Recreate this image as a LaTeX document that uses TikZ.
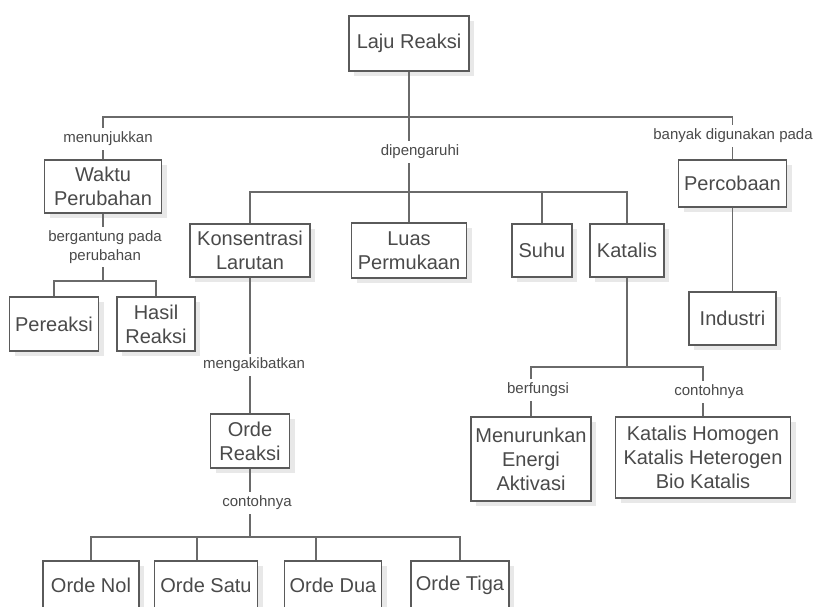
\documentclass[tikz,border=0pt]{standalone}
\usepackage{fontspec}
\setmainfont{Liberation Sans}
\usetikzlibrary{shadows}
\definecolor{linec}{HTML}{6A6A6A}
\definecolor{boxc}{HTML}{5A5A5A}
\definecolor{txtc}{HTML}{4A4A4A}
\tikzset{
  box/.style={draw=boxc, line width=1.5pt, fill=white, text=txtc, align=center,
    font=\fontsize{20}{24}\selectfont, inner sep=2pt,
    drop shadow={shadow xshift=5pt, shadow yshift=-5pt, fill=black!18}},
  lbl/.style={fill=white, text=txtc, align=center, font=\fontsize{15}{19}\selectfont,
    inner xsep=2pt, inner ysep=4pt},
  conn/.style={draw=linec, line width=1.5pt},
}
\begin{document}
\begin{tikzpicture}[x=1pt,y=-1pt]
\useasboundingbox (0,0) rectangle (819,606);
% boxes
\node[box, minimum width=120pt, minimum height=55pt] (laju) at (409,43.5) {Laju Reaksi};
\node[box, minimum width=117pt, minimum height=53pt] (waktu) at (103,186.5) {Waktu\\Perubahan};
\node[box, minimum width=89pt, minimum height=54pt] (pereaksi) at (54,324) {Pereaksi};
\node[box, minimum width=78pt, minimum height=54pt] (hasil) at (156,324) {Hasil\\Reaksi};
\node[box, minimum width=120pt, minimum height=53pt] (kons) at (250,250.5) {Konsentrasi\\Larutan};
\node[box, minimum width=115pt, minimum height=55pt] (luas) at (409,250.5) {Luas\\Permukaan};
\node[box, minimum width=60pt, minimum height=53pt] (suhu) at (542,250.5) {Suhu};
\node[box, minimum width=74pt, minimum height=53pt] (katalis) at (627,250.5) {Katalis};
\node[box, minimum width=108pt, minimum height=47pt] (percobaan) at (732.5,183.5) {Percobaan};
\node[box, minimum width=87pt, minimum height=53pt] (industri) at (732.5,318.5) {Industri};
\node[box, minimum width=79pt, minimum height=54pt] (orde) at (250,441) {Orde\\Reaksi};
\node[box, minimum width=120pt, minimum height=84pt] (menurun) at (531,459) {Menurunkan\\Energi\\Aktivasi};
\node[box, minimum width=175pt, minimum height=81pt] (contoh) at (703,457.5) {Katalis Homogen\\Katalis Heterogen\\Bio Katalis};
\node[box, minimum width=96pt, minimum height=48pt] (nol) at (91,585) {Orde Nol};
\node[box, minimum width=103pt, minimum height=48pt] (satu) at (206,585) {Orde Satu};
\node[box, minimum width=97pt, minimum height=48pt] (dua) at (333,585) {Orde Dua};
\node[box, minimum width=98pt, minimum height=48pt] (tiga) at (460,585) {Orde Tiga};
% junction coordinates
\coordinate (tb) at (409,117);
\coordinate (mb) at (409,192);
\coordinate (wb) at (103,281);
\coordinate (kb) at (627,367);
\coordinate (ob) at (250,537);
\coordinate (sv) at (197,537);
\coordinate (dv) at (316,537);
% connectors
\draw[conn] (waktu.north) |- (tb) -| (percobaan.north);
\draw[conn] (laju.south) -- (mb);
\draw[conn] (kons.north) |- (mb) -| (katalis.north);
\draw[conn] (mb) -- (luas.north);
\draw[conn] (suhu.north) -- (suhu.north |- mb);
\draw[conn] (percobaan.south) -- (industri.north);
\draw[conn] (waktu.south) -- (wb);
\draw[conn] (pereaksi.north) |- (wb) -| (hasil.north);
\draw[conn] (kons.south) -- (orde.north);
\draw[conn] (katalis.south) -- (kb);
\draw[conn] (menurun.north) |- (kb) -| (contoh.north);
\draw[conn] (orde.south) -- (ob);
\draw[conn] (nol.north) |- (ob) -| (tiga.north);
\draw[conn] (sv) -- (sv |- satu.north);
\draw[conn] (dv) -- (dv |- dua.north);
% labels
\node[lbl] (l1) at (108,139) {menunjukkan};
\node[lbl] (l2) at (420,152) {dipengaruhi};
\node[lbl] (l3) at (733,136) {banyak digunakan pada};
\node[lbl] (l4) at (105,247) {bergantung pada\\perubahan};
\node[lbl] (l5) at (254,365) {mengakibatkan};
\node[lbl] (l6) at (538,390) {berfungsi};
\node[lbl] (l7) at (709,392) {contohnya};
\node[lbl] (l8) at (257,503) {contohnya};
\end{tikzpicture}
\end{document}
